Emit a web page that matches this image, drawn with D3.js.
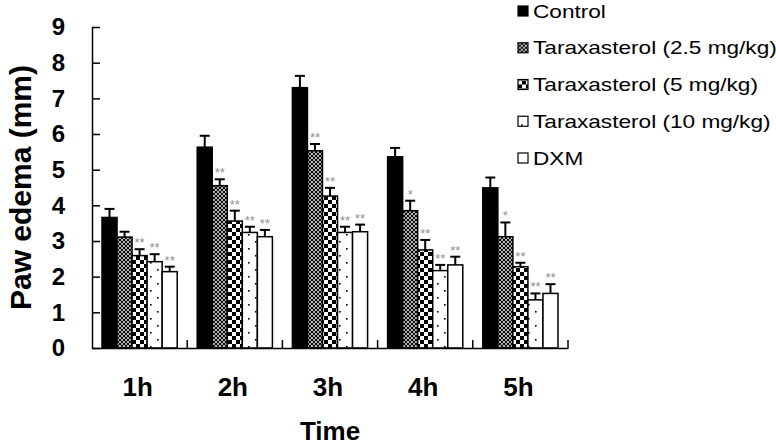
<!DOCTYPE html>
<html>
<head>
<meta charset="utf-8">
<script src="https://cdn.jsdelivr.net/npm/d3@7"></script>
<style>
  body { margin: 0; background: #fff; }
  svg { display: block; }
  text { font-family: "Liberation Sans", Arial, sans-serif; }
</style>
</head>
<body>
<svg id="chart" width="776" height="447"></svg>
<script>
// ---------- data ----------
const times = ["1h", "2h", "3h", "4h", "5h"];
const seriesNames = ["Control", "Taraxasterol (2.5 mg/kg)", "Taraxasterol (5 mg/kg)", "Taraxasterol (10 mg/kg)", "DXM"];
const yTicks = [0, 1, 2, 3, 4, 5, 6, 7, 8, 9];

const controlMean = [3.66, 5.63, 7.30, 5.36, 4.49];
const controlErr  = [0.24, 0.32, 0.33, 0.25, 0.29];
const t25Mean = [3.11, 4.55, 5.53, 3.85, 3.12];
const t25Err  = [0.15, 0.18, 0.19, 0.28, 0.40];
const t5Mean  = [2.59, 3.56, 4.26, 2.75, 2.28];
const t5Err   = [0.18, 0.29, 0.23, 0.28, 0.11];
const t10Mean = [2.42, 3.24, 3.24, 2.17, 1.35];
const t10Err  = [0.21, 0.16, 0.16, 0.16, 0.18];
const dxmMean = [2.14, 3.12, 3.26, 2.33, 1.53];
const dxmErr  = [0.14, 0.19, 0.20, 0.23, 0.26];

const controlSig = ["", "", "", "", ""];
const t25Sig = ["", "**", "**", "*", "*"];
const t5Sig  = ["**", "**", "**", "**", "**"];
const t10Sig = ["**", "**", "**", "**", "**"];
const dxmSig = ["**", "**", "**", "**", "**"];

const means = [controlMean, t25Mean, t5Mean, t10Mean, dxmMean];
const errs  = [controlErr, t25Err, t5Err, t10Err, dxmErr];
const sigs  = [controlSig, t25Sig, t5Sig, t10Sig, dxmSig];

// ---------- layout ----------
const svg = d3.select("#chart");
const mLeft = 92, mRight = 568, mTop = 27, mBottom = 348;

const x0 = d3.scaleBand().domain(times).range([mLeft, mRight]).padding(0);
const x1 = d3.scaleBand().domain(seriesNames).range([10, x0.bandwidth() - 10]).padding(0);
const y = d3.scaleLinear().domain([0, 9]).range([mBottom, mTop]);

// ---------- patterns ----------
const defs = svg.append("defs");
const p1 = defs.append("pattern").attr("id", "pat25").attr("patternUnits", "userSpaceOnUse")
  .attr("width", 4).attr("height", 4);
p1.append("rect").attr("width", 4).attr("height", 4).attr("fill", "#fff");
p1.append("path").attr("d", "M0,0L4,4M4,0L0,4M-1,3L1,5M3,-1L5,1M3,5L5,3M-1,1L1,-1")
  .attr("stroke", "#000").attr("stroke-width", 1.2);
const p2 = defs.append("pattern").attr("id", "pat5").attr("patternUnits", "userSpaceOnUse")
  .attr("width", 8).attr("height", 8);
p2.append("rect").attr("width", 8).attr("height", 8).attr("fill", "#fff");
p2.append("rect").attr("width", 4).attr("height", 4).attr("fill", "#000");
p2.append("rect").attr("x", 4).attr("y", 4).attr("width", 4).attr("height", 4).attr("fill", "#000");
const p3 = defs.append("pattern").attr("id", "pat10").attr("patternUnits", "userSpaceOnUse")
  .attr("width", 14).attr("height", 14);
p3.append("rect").attr("width", 14).attr("height", 14).attr("fill", "#fff");
p3.append("rect").attr("x", 3).attr("y", 3).attr("width", 1.6).attr("height", 1.6).attr("fill", "#000");
p3.append("rect").attr("x", 10).attr("y", 10).attr("width", 1.6).attr("height", 1.6).attr("fill", "#000");

const fills = ["#000", "url(#pat25)", "url(#pat5)", "url(#pat10)", "#fff"];

// ---------- bars ----------
const rows = [];
times.forEach((t, i) => {
  seriesNames.forEach((s, k) => {
    rows.push({ t, s, k, v: means[k][i], e: errs[k][i], sig: sigs[k][i] });
  });
});

const g = svg.append("g");
g.selectAll("rect.bar").data(rows).join("rect")
  .attr("class", "bar")
  .attr("x", d => x0(d.t) + x1(d.s))
  .attr("y", d => y(d.v))
  .attr("width", x1.bandwidth())
  .attr("height", d => y(0) - y(d.v))
  .attr("fill", d => fills[d.k])
  .attr("stroke", "#000")
  .attr("stroke-width", 1.5);

const eg = g.selectAll("g.err").data(rows).join("g").attr("class", "err")
  .attr("stroke", "#000").attr("stroke-width", 2);
eg.append("line")
  .attr("x1", d => x0(d.t) + x1(d.s) + x1.bandwidth() / 2)
  .attr("x2", d => x0(d.t) + x1(d.s) + x1.bandwidth() / 2)
  .attr("y1", d => y(d.v))
  .attr("y2", d => y(d.v + d.e));
eg.append("line")
  .attr("x1", d => x0(d.t) + x1(d.s) + x1.bandwidth() / 2 - 5)
  .attr("x2", d => x0(d.t) + x1(d.s) + x1.bandwidth() / 2 + 5)
  .attr("y1", d => y(d.v + d.e))
  .attr("y2", d => y(d.v + d.e));

g.selectAll("text.sig").data(rows.filter(d => d.sig)).join("text")
  .attr("class", "sig")
  .attr("x", d => x0(d.t) + x1(d.s) + x1.bandwidth() / 2)
  .attr("y", d => y(d.v + d.e) - 2)
  .attr("text-anchor", "middle")
  .attr("font-size", 13)
  .attr("fill", "#909090")
  .text(d => d.sig);

// ---------- axes ----------
const yAxis = svg.append("g").attr("transform", `translate(${mLeft},0)`)
  .call(d3.axisLeft(y).tickValues(yTicks).tickSizeInner(-8).tickSizeOuter(0).tickPadding(27));
yAxis.select(".domain").attr("stroke-width", 1.5);
yAxis.selectAll(".tick line").attr("stroke-width", 1.5);
yAxis.selectAll(".tick text")
  .attr("font-size", 24).attr("font-weight", "bold")
  .attr("font-family", "'Liberation Sans', Arial, sans-serif").attr("fill", "#000");

const xAxis = svg.append("g").attr("transform", `translate(0,${mBottom})`)
  .call(d3.axisBottom(x0).tickSize(0).tickPadding(30));
xAxis.select(".domain").attr("stroke-width", 1.5);
xAxis.selectAll(".tick text")
  .attr("font-size", 26).attr("font-weight", "bold")
  .attr("dx", -2)
  .attr("font-family", "'Liberation Sans', Arial, sans-serif").attr("fill", "#000");

const seps = times.map(t => x0(t)).concat([x0(times[times.length - 1]) + x0.bandwidth()]);
svg.append("g").selectAll("line").data(seps.slice(1)).join("line")
  .attr("x1", d => d).attr("x2", d => d)
  .attr("y1", mBottom).attr("y2", mBottom - 8)
  .attr("stroke", "#000").attr("stroke-width", 1.5);

svg.append("text")
  .attr("x", (mLeft + mRight) / 2).attr("y", 440)
  .attr("text-anchor", "middle")
  .attr("font-size", 26).attr("font-weight", "bold")
  .text("Time");

svg.append("text")
  .attr("transform", `translate(31,${(mTop + mBottom) / 2}) rotate(-90)`)
  .attr("text-anchor", "middle")
  .attr("font-size", 30).attr("font-weight", "bold")
  .text("Paw edema (mm)");

// ---------- legend ----------
const legend = svg.append("g");
const legendY = d3.scalePoint().domain(seriesNames).range([11, 158]);
const li = legend.selectAll("g").data(seriesNames).join("g")
  .attr("transform", d => `translate(518,${legendY(d)})`);
li.append("rect")
  .attr("x", 0).attr("y", -5).attr("width", 10).attr("height", 10)
  .attr("fill", (d, i) => fills[i])
  .attr("stroke", "#000").attr("stroke-width", 1.2);
li.append("text")
  .attr("x", 15).attr("y", 6.5)
  .attr("font-size", 19)
  .text(d => d)
  .each(function () {
    const w = this.getComputedTextLength();
    d3.select(this).attr("textLength", w * 1.19).attr("lengthAdjust", "spacingAndGlyphs");
  });
</script>
</body>
</html>
